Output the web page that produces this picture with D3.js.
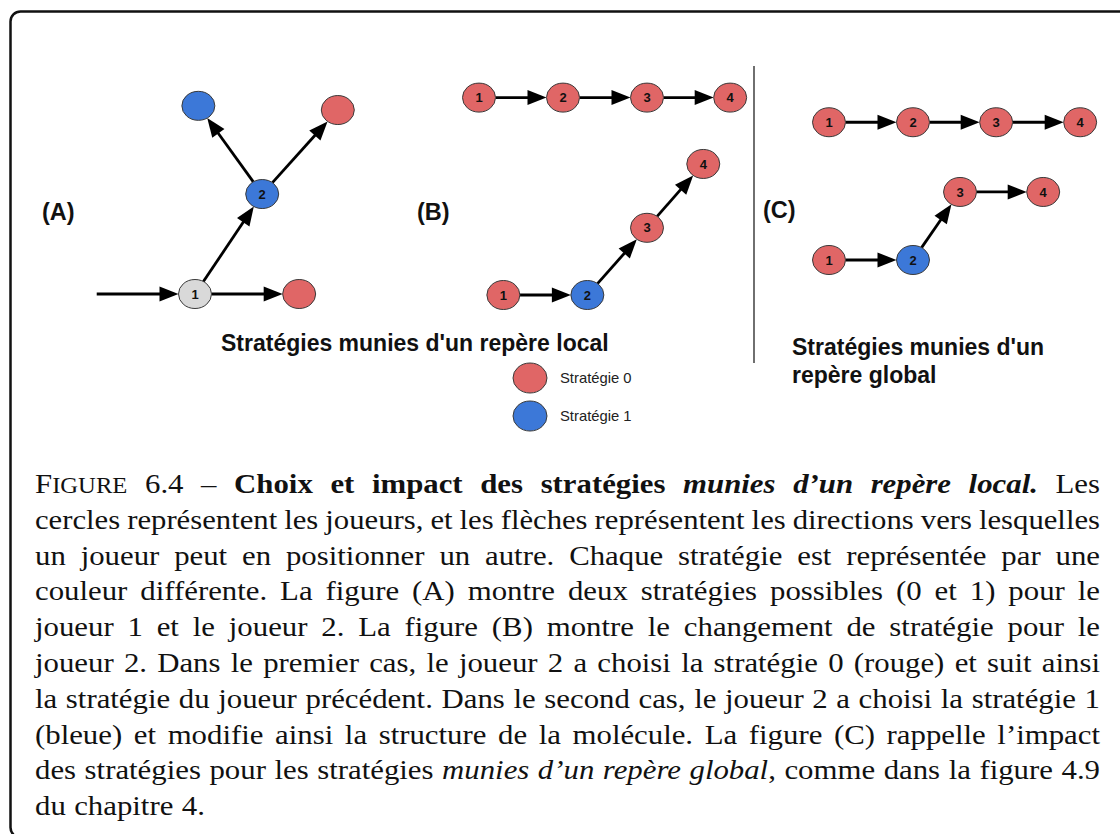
<!DOCTYPE html>
<html><head><meta charset="utf-8">
<script src="https://cdn.jsdelivr.net/npm/d3@7"></script>
<style>html,body{margin:0;padding:0;background:#fff;}svg{display:block;}</style>
</head><body>
<svg id="c" width="1120" height="834"></svg>
<script>
// ---------- DATA ----------
const strategies = ["Stratégie 0", "Stratégie 1"];
// node lists: [id, label, strategy (-1 = neutral, -2 = free start point), gx, gy] in grid units
const panelA_nodes = [
  ["src", "", -2, -1.17, 0],
  ["a1", "1", -1, 0, 0],
  ["a0", "", 0, 1.24, 0],
  ["a2", "2", 1, 0.80, 1.19],
  ["a2b", "", 1, 0.04, 2.24],
  ["a2r", "", 0, 1.70, 2.19]
];
const panelA_links = [["src","a1"],["a1","a0"],["a1","a2"],["a2","a2b"],["a2","a2r"]];
const panelB_nodes = [
  ["t1","1",0,0,2.35],["t2","2",0,1,2.35],["t3","3",0,2,2.35],["t4","4",0,2.99,2.35],
  ["b1","1",0,0.29,0],["b2","2",1,1.29,0],["b3","3",0,2.0,0.80],["b4","4",0,2.67,1.56]
];
const panelB_links = [["t1","t2"],["t2","t3"],["t3","t4"],["b1","b2"],["b2","b3"],["b3","b4"]];
const panelC_nodes = [
  ["t1","1",0,0,1.64],["t2","2",0,1,1.64],["t3","3",0,1.99,1.64],["t4","4",0,2.99,1.64],
  ["b1","1",0,0,0],["b2","2",1,1,0],["b3","3",0,1.56,0.81],["b4","4",0,2.55,0.81]
];
const panelC_links = [["t1","t2"],["t2","t3"],["t3","t4"],["b1","b2"],["b2","b3"],["b3","b4"]];
const panelLabels = ["(A)", "(B)", "(C)"];
const titleLocal = "Stratégies munies d'un repère local";
const titleGlobal = ["Stratégies munies d'un", "repère global"];
// caption: lines -> words -> segments [text, style]
const captionLines = [
  [[["F","sc1"],["IGURE","sc2"]],[["6.4","r"]],[["–","r"]],[["Choix","b"]],[["et","b"]],[["impact","b"]],[["des","b"]],[["stratégies","b"]],[["munies","bi"]],[["d’un","bi"]],[["repère","bi"]],[["local.","bi"]],[["Les","r"]]],
  "cercles représentent les joueurs, et les flèches représentent les directions vers lesquelles",
  "un joueur peut en positionner un autre. Chaque stratégie est représentée par une",
  "couleur différente. La figure (A) montre deux stratégies possibles (0 et 1) pour le",
  "joueur 1 et le joueur 2. La figure (B) montre le changement de stratégie pour le",
  "joueur 2. Dans le premier cas, le joueur 2 a choisi la stratégie 0 (rouge) et suit ainsi",
  "la stratégie du joueur précédent. Dans le second cas, le joueur 2 a choisi la stratégie 1",
  "(bleue) et modifie ainsi la structure de la molécule. La figure (C) rappelle l’impact",
  [[["des","r"]],[["stratégies","r"]],[["pour","r"]],[["les","r"]],[["stratégies","r"]],[["munies","i"]],[["d’un","i"]],[["repère","i"]],[["global","i"],[",","r"]],[["comme","r"]],[["dans","r"]],[["la","r"]],[["figure","r"]],[["4.9","r"]]],
  "du chapitre 4."
];

// ---------- STYLE ----------
const colors = {0:"#e06666", 1:"#3c78d8", [-1]:"#d9d9d9"};
const RX = 16.5, RY = 14.5, HEAD_L = 19, HEAD_W = 15;
const svg = d3.select("#c");

// frame
svg.append("rect").attr("x",10.5).attr("y",11.5).attr("width",1200).attr("height",826)
  .attr("rx",10).attr("fill","none").attr("stroke","#111").attr("stroke-width",2.5);

// divider
svg.append("line").attr("x1",754).attr("x2",754).attr("y1",66).attr("y2",363)
  .attr("stroke","#222").attr("stroke-width",1.3);

function drawPanel(nodesArr, links, x0, y0, unit){
  const x = d3.scaleLinear().domain([0,1]).range([x0, x0+unit]);
  const y = d3.scaleLinear().domain([0,1]).range([y0, y0-unit]);
  const nodes = nodesArr.map(([id,label,s,gx,gy]) => ({id,label,s,cx:x(gx),cy:y(gy)}));
  const byId = Object.fromEntries(nodes.map(n=>[n.id,n]));
  const g = svg.append("g");
  const bound = (ux,uy) => 1/Math.sqrt((ux/RX)**2+(uy/RY)**2);
  links.forEach(([s,t])=>{
    const a = byId[s], b = byId[t];
    const dx=b.cx-a.cx, dy=b.cy-a.cy, len=Math.hypot(dx,dy), ux=dx/len, uy=dy/len;
    const r0 = a.s===-2 ? 0 : bound(ux,uy);
    const r1 = bound(ux,uy);
    const sx=a.cx+ux*r0, sy=a.cy+uy*r0;
    const tx=b.cx-ux*r1, ty=b.cy-uy*r1;
    g.append("line").attr("x1",sx).attr("y1",sy)
      .attr("x2",tx-ux*(HEAD_L-3)).attr("y2",ty-uy*(HEAD_L-3))
      .attr("stroke","#000").attr("stroke-width",2.8);
    const bx=tx-ux*HEAD_L, by=ty-uy*HEAD_L, px=-uy*HEAD_W/2, py=ux*HEAD_W/2;
    const p = d3.path(); p.moveTo(tx,ty); p.lineTo(bx+px,by+py); p.lineTo(bx-px,by-py); p.closePath();
    g.append("path").attr("d",p.toString()).attr("fill","#000");
  });
  const ng = g.selectAll("g.n").data(nodes.filter(n=>n.s!==-2)).join("g")
    .attr("transform",d=>`translate(${d.cx},${d.cy})`);
  ng.append("ellipse").attr("rx",RX).attr("ry",RY).attr("fill",d=>colors[d.s])
    .attr("stroke","#3a3a3a").attr("stroke-width",1);
  ng.append("text").text(d=>d.label).attr("text-anchor","middle").attr("dy","0.36em")
    .attr("font-family","Liberation Sans, Arial, sans-serif").attr("font-weight","bold")
    .attr("font-size",13).attr("fill","#111");
}
drawPanel(panelA_nodes, panelA_links, 195, 294, 84);
drawPanel(panelB_nodes, panelB_links, 479, 295, 84);
drawPanel(panelC_nodes, panelC_links, 829, 260, 84);

const sans = "Liberation Sans, Arial, sans-serif";
// panel labels
[[42,220],[417,220],[763,218]].forEach((p,i)=>{
  svg.append("text").attr("x",p[0]).attr("y",p[1]).text(panelLabels[i])
    .attr("font-family",sans).attr("font-weight","bold").attr("font-size",23.5).attr("fill","#111");
});
svg.append("text").attr("x",221).attr("y",351).text(titleLocal)
  .attr("font-family",sans).attr("font-weight","bold").attr("font-size",23).attr("fill","#111");
titleGlobal.forEach((t,i)=>svg.append("text").attr("x",792).attr("y",355+i*28).text(t)
  .attr("font-family",sans).attr("font-weight","bold").attr("font-size",23).attr("fill","#111"));

// legend
const lg = svg.append("g");
const ly = d3.scalePoint().domain(strategies).range([378,416]);
strategies.forEach((s,i)=>{
  lg.append("ellipse").attr("cx",530).attr("cy",ly(s)).attr("rx",17).attr("ry",15)
    .attr("fill",colors[i]).attr("stroke","#3a3a3a").attr("stroke-width",1);
  lg.append("text").attr("x",560).attr("y",ly(s)).attr("dy","0.35em").text(s)
    .attr("font-family",sans).attr("font-size",14.8).attr("fill","#222");
});

// caption (justified)
const serif = "Liberation Serif, Times New Roman, serif";
const FS = 28, LEFT = 35, RIGHT = 1100, BASE0 = 493, LH = 35.8, KMAX = 1.1, MINGAP = 7;
const styleOf = st => ({
  weight: (st==="b"||st==="bi") ? "bold" : "normal",
  italic: (st==="i"||st==="bi"),
  size: st==="sc2" ? FS*0.8 : FS
});
captionLines.forEach((line,li)=>{
  let words = typeof line === "string" ? line.split(" ").map(w=>[[w,"r"]]) : line;
  const yb = BASE0 + li*LH;
  const els = words.map(w=>{
    const t = svg.append("text").attr("x",0).attr("y",0).attr("font-family",serif).attr("fill","#111");
    w.forEach(([txt,st])=>{
      const s = styleOf(st);
      t.append("tspan").text(txt).attr("font-weight",s.weight)
        .attr("font-style",s.italic?"italic":"normal").attr("font-size",s.size);
    });
    return t;
  });
  const widths = els.map(e=>e.node().getComputedTextLength());
  const total = d3.sum(widths);
  const last = li === captionLines.length-1;
  const k = Math.min(KMAX, (RIGHT-LEFT-MINGAP*(els.length-1))/total);
  const gap = last ? FS*0.3 : (RIGHT-LEFT-total*k)/(els.length-1);
  let xx = LEFT;
  els.forEach((e,i)=>{
    e.attr("transform",`translate(${xx},${yb}) scale(${k},1)`);
    xx += widths[i]*k + gap;
  });
});
</script>
</body></html>
